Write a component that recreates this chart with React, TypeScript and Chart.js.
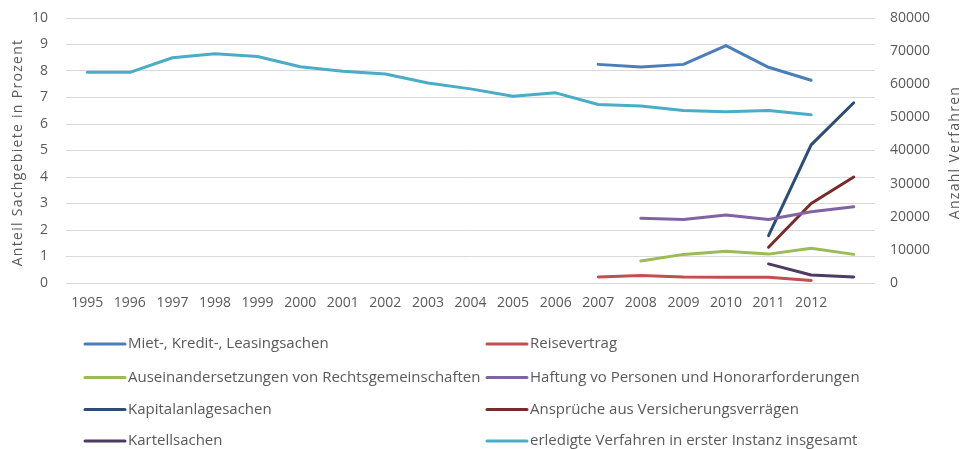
import React, { useEffect, useRef } from "react";
import { Chart, registerables } from "chart.js";

Chart.register(...registerables);

const years = ["1995", "1996", "1997", "1998", "1999", "2000", "2001", "2002", "2003", "2004", "2005", "2006", "2007", "2008", "2009", "2010", "2011", "2012", ""];

const leftTicks = [0, 1, 2, 3, 4, 5, 6, 7, 8, 9, 10];
const rightTicks = [0, 10000, 20000, 30000, 40000, 50000, 60000, 70000, 80000];

const N = null;
const mietKredit = [N, N, N, N, N, N, N, N, N, N, N, N, 8.25, 8.15, 8.25, 8.96, 8.14, 7.65, N];
const reisevertrag = [N, N, N, N, N, N, N, N, N, N, N, N, 0.23, 0.28, 0.23, 0.22, 0.22, 0.09, N];
const auseinander = [N, N, N, N, N, N, N, N, N, N, N, N, N, 0.83, 1.08, 1.2, 1.09, 1.31, 1.08];
const haftung = [N, N, N, N, N, N, N, N, N, N, N, N, N, 2.44, 2.4, 2.57, 2.4, 2.69, 2.88];
const kapital = [N, N, N, N, N, N, N, N, N, N, N, N, N, N, N, N, 1.79, 5.21, 6.8];
const ansprueche = [N, N, N, N, N, N, N, N, N, N, N, N, N, N, N, N, 1.35, 3.0, 4.0];
const kartell = [N, N, N, N, N, N, N, N, N, N, N, N, N, N, N, N, 0.72, 0.3, 0.23];
const erledigt = [63600, 63600, 68000, 69200, 68400, 65300, 63900, 63100, 60400, 58600, 56400, 57400, 53900, 53400, 52100, 51700, 52100, 50800, N];

const seriesNames = [
  "Miet-, Kredit-, Leasingsachen",
  "Reisevertrag",
  "Auseinandersetzungen von Rechtsgemeinschaften",
  "Haftung vo Personen und Honorarforderungen",
  "Kapitalanlagesachen",
  "Ansprüche aus Versicherungsverrägen",
  "Kartellsachen",
  "erledigte Verfahren in erster Instanz insgesamt",
];
const seriesColors = ["#4A7EBB", "#C0504D", "#9BBB59", "#8064A2", "#2C4D75", "#772C2A", "#4D3B62", "#4BACC6"];

const leftTitle = "Anteil Sachgebiete in Prozent";
const rightTitle = "Anzahl Verfahren";

const FONT = "'Open Sans', sans-serif";
const TEXT = "#595959";

function drawVerticalTitle(ctx: any, text: string, x: number, y: number) {
  ctx.save();
  ctx.fillStyle = TEXT;
  ctx.font = `14px ${FONT}`;
  ctx.letterSpacing = "1.3px";
  ctx.textAlign = "center";
  ctx.textBaseline = "middle";
  ctx.translate(x, y);
  ctx.rotate(-Math.PI / 2);
  ctx.fillText(text, 0, 0);
  ctx.restore();
}

const legendPlugin = {
  id: "gridLegend",
  afterDraw(chart: any) {
    const ctx = chart.ctx;
    const ca = chart.chartArea;
    const midY = (ca.top + ca.bottom) / 2 + 2;
    drawVerticalTitle(ctx, leftTitle, 18, midY);
    drawVerticalTitle(ctx, rightTitle, 955, midY);

    ctx.save();
    const colX = [85, 487];
    const rowY = [344, 377.5, 409.5, 441];
    ctx.font = `15px ${FONT}`;
    ctx.textBaseline = "middle";
    ctx.textAlign = "left";
    chart.data.datasets.forEach((ds: any, i: number) => {
      const x = colX[i % 2];
      const y = rowY[Math.floor(i / 2)];
      ctx.strokeStyle = ds.borderColor;
      ctx.lineWidth = 3;
      ctx.lineCap = "round";
      ctx.beginPath();
      ctx.moveTo(x, y);
      ctx.lineTo(x + 40, y);
      ctx.stroke();
      ctx.fillStyle = TEXT;
      ctx.fillText(ds.label, x + 43, y);
    });
    ctx.restore();
  },
};

export default function App() {
  const ref = useRef<HTMLCanvasElement>(null);
  useEffect(() => {
    if (!ref.current) return;
    const values = [mietKredit, reisevertrag, auseinander, haftung, kapital, ansprueche, kartell, erledigt];
    const chart = new Chart(ref.current, {
      type: "line",
      data: {
        labels: years,
        datasets: values.map((v, i) => ({
          label: seriesNames[i],
          data: v,
          borderColor: seriesColors[i],
          backgroundColor: seriesColors[i],
          borderWidth: 3,
          pointRadius: 0,
          tension: 0,
          spanGaps: false,
          yAxisID: i === 7 ? "y1" : "y",
          borderCapStyle: "round" as const,
          borderJoinStyle: "round" as const,
        })),
      },
      options: {
        animation: false,
        responsive: false,
        maintainAspectRatio: false,
        layout: { padding: { top: 18, bottom: 0, left: 0, right: 0 } },
        plugins: { legend: { display: false }, tooltip: { enabled: false } },
        scales: {
          x: {
            type: "category",
            offset: true,
            grid: { display: false },
            border: { display: false },
            ticks: { color: TEXT, font: { family: FONT, size: 14 }, padding: 4, maxRotation: 0, autoSkip: false },
            afterFit: (s: any) => { s.height = 166; },
          },
          y: {
            position: "left",
            min: 0,
            max: 10,
            afterBuildTicks: (s: any) => { s.ticks = leftTicks.map((v) => ({ value: v })); },
            grid: { color: "#D9D9D9", lineWidth: 1, drawTicks: false },
            border: { display: false },
            ticks: { color: TEXT, font: { family: FONT, size: 14 }, padding: 18 },
            title: { display: false, text: leftTitle },
            afterFit: (s: any) => { s.width = 66; s.paddingTop = 0; s.paddingBottom = 0; },
          },
          y1: {
            position: "right",
            min: 0,
            max: 80000,
            afterBuildTicks: (s: any) => { s.ticks = rightTicks.map((v) => ({ value: v })); },
            grid: { display: false, drawTicks: false },
            border: { display: false },
            ticks: { color: TEXT, font: { family: FONT, size: 14 }, padding: 15, callback: (v: any) => String(v) },
            title: { display: false, text: rightTitle },
            afterFit: (s: any) => { s.width = 96; s.paddingTop = 0; s.paddingBottom = 0; },
          },
        },
      },
      plugins: [legendPlugin],
    });
    return () => chart.destroy();
  }, []);
  return (
    <div style={{ position: "fixed", left: 0, top: 0, width: 971, height: 449, background: "#fff" }}>
      <canvas ref={ref} width={971} height={449} style={{ width: 971, height: 449, display: "block" }} />
    </div>
  );
}
